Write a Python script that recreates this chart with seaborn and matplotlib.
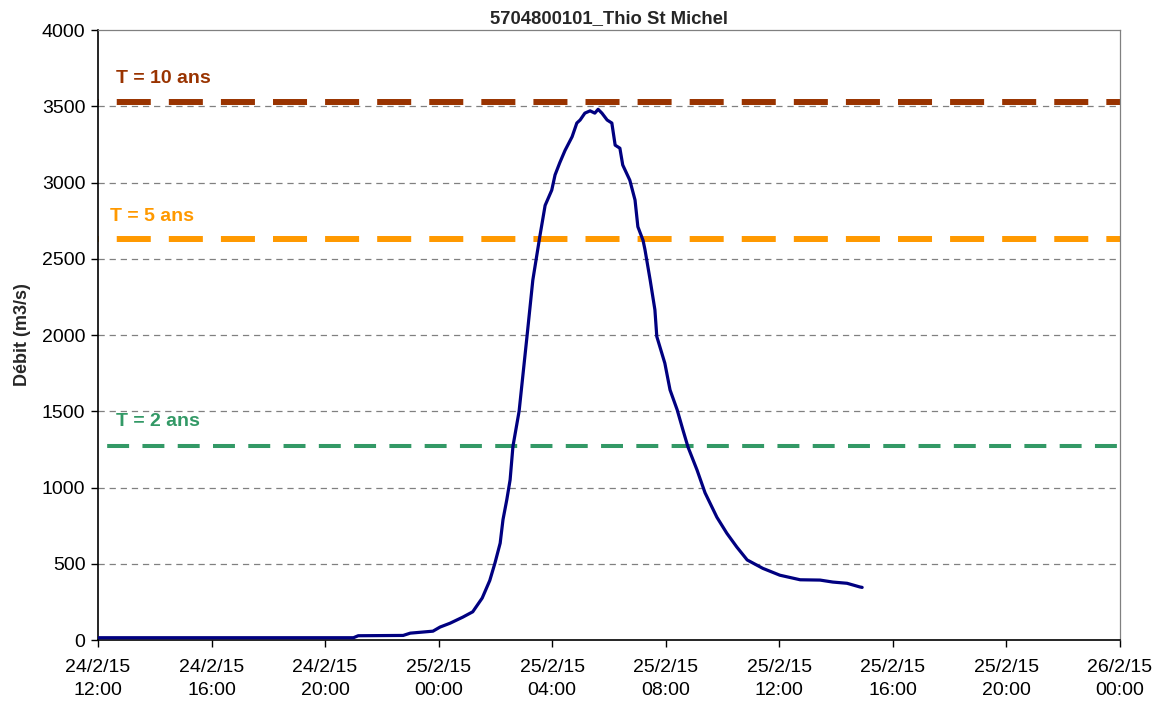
import pandas as pd
import numpy as np
import matplotlib
matplotlib.use("Agg")
import matplotlib.pyplot as plt
import matplotlib.dates as mdates
import seaborn as sns

# hydrogramme
heures = ["24/02/2015 12:00", "24/02/2015 21:00", "24/02/2015 21:10", "24/02/2015 22:45",
          "24/02/2015 23:00", "24/02/2015 23:48", "25/02/2015 00:03", "25/02/2015 00:24",
          "25/02/2015 00:51", "25/02/2015 01:12", "25/02/2015 01:32", "25/02/2015 01:48",
          "25/02/2015 01:59", "25/02/2015 02:10", "25/02/2015 02:16", "25/02/2015 02:24",
          "25/02/2015 02:31", "25/02/2015 02:37", "25/02/2015 02:50", "25/02/2015 03:07",
          "25/02/2015 03:19", "25/02/2015 03:34", "25/02/2015 03:45", "25/02/2015 03:59",
          "25/02/2015 04:06", "25/02/2015 04:16", "25/02/2015 04:27", "25/02/2015 04:42",
          "25/02/2015 04:52", "25/02/2015 04:59", "25/02/2015 05:09", "25/02/2015 05:20",
          "25/02/2015 05:30", "25/02/2015 05:37", "25/02/2015 05:45", "25/02/2015 05:56",
          "25/02/2015 06:06", "25/02/2015 06:13", "25/02/2015 06:23", "25/02/2015 06:29",
          "25/02/2015 06:44", "25/02/2015 06:55", "25/02/2015 07:01", "25/02/2015 07:12",
          "25/02/2015 07:16", "25/02/2015 07:27", "25/02/2015 07:37", "25/02/2015 07:41",
          "25/02/2015 07:58", "25/02/2015 08:09", "25/02/2015 08:24", "25/02/2015 08:36",
          "25/02/2015 08:47", "25/02/2015 09:06", "25/02/2015 09:23", "25/02/2015 09:48",
          "25/02/2015 10:09", "25/02/2015 10:30", "25/02/2015 10:52", "25/02/2015 11:25",
          "25/02/2015 12:01", "25/02/2015 12:44", "25/02/2015 13:26", "25/02/2015 13:53",
          "25/02/2015 14:23", "25/02/2015 14:50", "25/02/2015 14:55"]
debit = [15, 15, 28, 30,
         45, 58, 85, 110,
         150, 185, 275, 390,
         505, 635, 790, 920,
         1050, 1270, 1500, 2000,
         2360, 2650, 2850, 2950,
         3050, 3130, 3210, 3300,
         3390, 3410, 3455, 3470,
         3455, 3480, 3455, 3410,
         3390, 3245, 3225, 3115,
         3015, 2885, 2710, 2620,
         2560, 2360, 2165, 1990,
         1815, 1640, 1510, 1380,
         1265, 1115, 965, 805,
         700, 610, 525, 470,
         425, 395, 393, 380,
         372, 348, 345]

# débits de référence
periodes = ["T = 2 ans", "T = 5 ans", "T = 10 ans"]
seuils = [1270, 2630, 3530]
couleurs = ["#339966", "#FF9900", "#993300"]

titre = "5704800101_Thio St Michel"
label_y = "Débit (m3/s)"

df = pd.DataFrame({"date": pd.to_datetime(heures, format="%d/%m/%Y %H:%M"), "debit": debit})

sns.set_style("white")
plt.rcParams['font.family'] = ['Liberation Sans', 'DejaVu Sans']
plt.rcParams['lines.scale_dashes'] = False

fig = plt.figure(figsize=(11.62, 7.03), dpi=100)
ax = fig.add_axes([0.0843, 0.0896, 0.9639 - 0.0843, 0.9573 - 0.0896])

x0 = pd.Timestamp("2015-02-24 12:00")
x1 = pd.Timestamp("2015-02-26 00:00")

# grille horizontale
for v in range(500, 4000, 500):
    ax.axhline(v, color="#808080", lw=0.9, ls=(0, (4.5, 3.5)), zorder=0)

# lignes des périodes de retour
styles = [dict(lw=2.9, ls=(18.8, (15.8, 9.6))),
          dict(lw=4.3, ls=(24.0, (24.5, 13.0))),
          dict(lw=4.3, ls=(24.0, (24.5, 13.0)))]
for s, c, st in zip(seuils, couleurs, styles):
    ax.axhline(s, color=c, solid_capstyle="butt", dash_capstyle="butt", zorder=2, **st)

# positions des étiquettes
txt_y = [1430, 2780, 3680]
txt_x = [pd.Timestamp("2015-02-24 12:38"), pd.Timestamp("2015-02-24 12:25"), pd.Timestamp("2015-02-24 12:38")]
for p, c, tx, ty in zip(periodes, couleurs, txt_x, txt_y):
    ax.text(tx, ty, p, color=c, fontsize=14, fontweight="bold", ha="left", va="center")

sns.lineplot(data=df, x="date", y="debit", color="#000080", lw=2.3, ax=ax, zorder=3)

ax.set_xlim(x0, x1)
ax.set_ylim(0, 4000)
ax.set_yticks(range(0, 4001, 500))
ax.xaxis.set_major_locator(mdates.HourLocator(byhour=[0, 4, 8, 12, 16, 20]))
ax.xaxis.set_major_formatter(mdates.DateFormatter("%-d/%-m/%y\n%H:%M"))

ax.tick_params(axis="both", direction="out", length=5, width=1, colors="black",
               labelsize=14, pad=4, bottom=True, left=True)
ax.tick_params(axis="x", pad=9)
for lab in ax.get_xticklabels():
    lab.set_horizontalalignment("center")
    lab.set_linespacing(1.4)

ax.spines["left"].set_color("black")
ax.spines["bottom"].set_color("black")
ax.spines["left"].set_linewidth(1.2)
ax.spines["bottom"].set_linewidth(1.2)
ax.spines["top"].set_color("#808080")
ax.spines["right"].set_color("#808080")
ax.spines["top"].set_linewidth(0.9)
ax.spines["right"].set_linewidth(0.9)

ax.set_xlabel("")
ax.set_ylabel(label_y, fontsize=13, fontweight="bold", labelpad=8)
ax.set_title(titre, fontsize=13.3, fontweight="bold", pad=5)

fig.savefig("out.png", dpi=100)
